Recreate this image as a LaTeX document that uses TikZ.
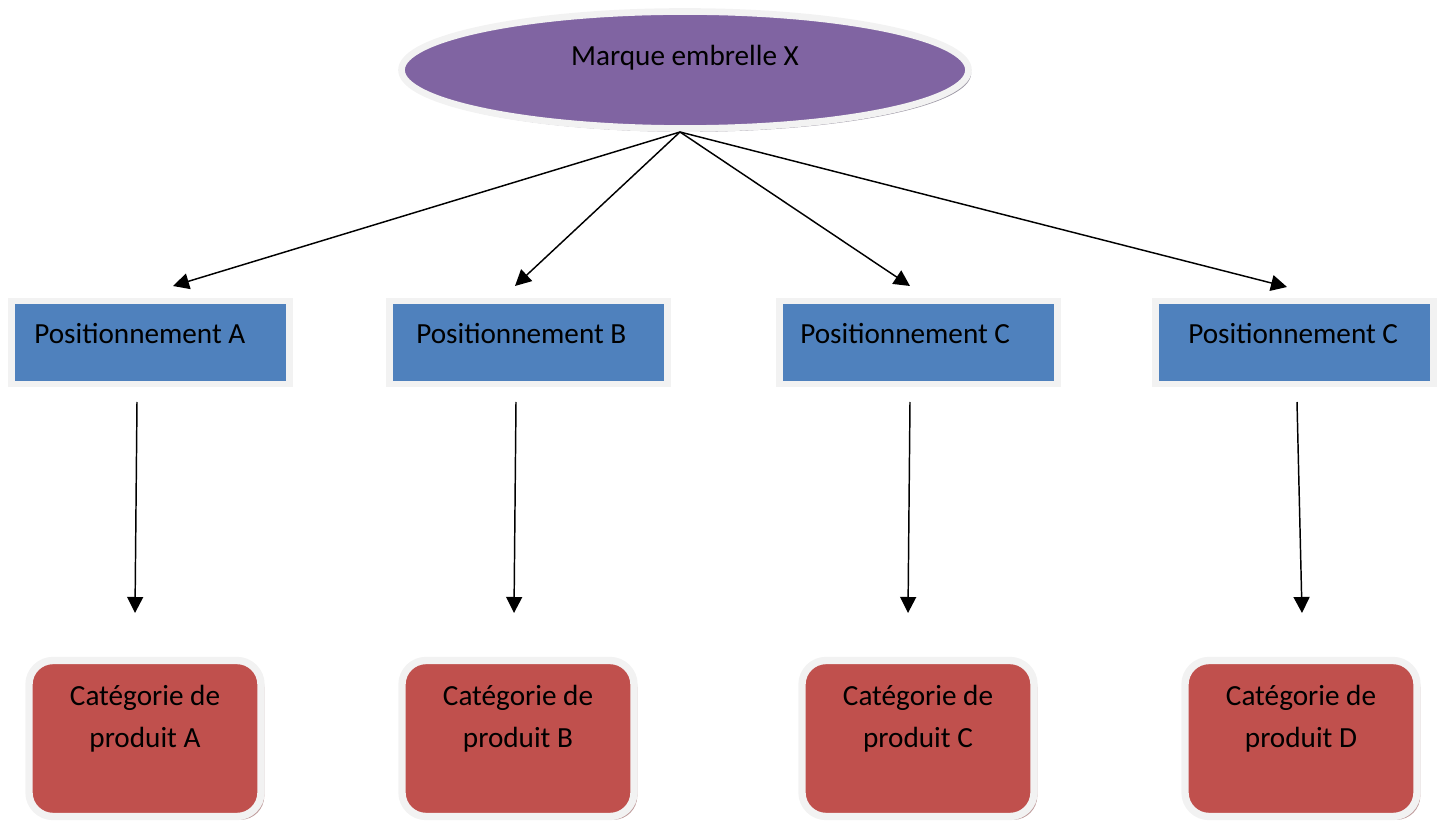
\documentclass[tikz,border=0pt]{standalone}
\usepackage{fontspec}
\setmainfont{Carlito}
\usetikzlibrary{arrows.meta,shapes.geometric,shadows}
\definecolor{ellpurple}{HTML}{8064A2}
\definecolor{posblue}{HTML}{4F81BD}
\definecolor{catred}{HTML}{C0504D}
\definecolor{rimgray}{HTML}{F2F2F2}
\definecolor{shblue}{HTML}{95A3B8}
\definecolor{shred}{HTML}{BF9C9C}
\definecolor{shpurple}{HTML}{9C97A4}
\begin{document}
\begin{tikzpicture}[x=0.75pt,y=-0.75pt,
  txt/.style={font=\fontsize{21.9}{31.5}\selectfont, text=black, inner sep=0pt},
  brand/.style={ellipse, fill=ellpurple, draw=rimgray, line width=5pt,
    minimum width=567*0.75pt, minimum height=117*0.75pt, inner sep=0pt,
    drop shadow={shadow xshift=2pt, shadow yshift=-2.5pt, fill=shpurple, opacity=1}},
  posbox/.style={rectangle, fill=posblue, draw=rimgray, line width=5pt,
    minimum width=278*0.75pt, minimum height=83*0.75pt, inner sep=0pt,
    drop shadow={shadow xshift=2.5pt, shadow yshift=-2.5pt, fill=shblue, opacity=1}},
  catbox/.style={rectangle, rounded corners=18pt, fill=catred, draw=rimgray, line width=5.5pt,
    minimum width=232*0.75pt, minimum height=156*0.75pt, inner sep=0pt,
    drop shadow={shadow xshift=2.5pt, shadow yshift=-2.5pt, fill=shred, opacity=1}},
  link/.style={draw=black, line width=1.1pt, -{Triangle[length=12pt,width=12pt]}}
]
\useasboundingbox (0,0) rectangle (1446,823);

% brand ellipse
\node[brand] (brand) at (685,70) {};
\node[txt] (brandtxt) at (685,58) {Marque embrelle X};
\coordinate (src) at (680,132);

% positioning boxes
\node[posbox] (pA) at (150.5,342.5) {};
\node[posbox] (pB) at (528.5,342.5) {};
\node[posbox] (pC) at (918.5,342.5) {};
\node[posbox] (pD) at (1294.5,342.5) {};
\node[txt,anchor=west] (tA) at (34,334) {Positionnement A};
\node[txt,anchor=west] (tB) at (416,334) {Positionnement B};
\node[txt,anchor=west] (tC) at (800,334) {Positionnement C};
\node[txt,anchor=west] (tD) at (1188,334) {Positionnement C};

% category boxes
\node[catbox] (cA) at (145,738.5) {};
\node[catbox] (cB) at (518,738.5) {};
\node[catbox] (cC) at (918,738.5) {};
\node[catbox] (cD) at (1301,738.5) {};
\node[txt,align=center] (ctA) at (145,719) {Catégorie de\\produit A};
\node[txt,align=center] (ctB) at (518,719) {Catégorie de\\produit B};
\node[txt,align=center] (ctC) at (918,719) {Catégorie de\\produit C};
\node[txt,align=center] (ctD) at (1301,719) {Catégorie de\\produit D};

% arrow end points
\coordinate (eA) at (173,286);
\coordinate (eB) at (515,286);
\coordinate (eC) at (910,286);
\coordinate (eD) at (1287,287);
\coordinate (sA) at (137,402);
\coordinate (sB) at (516,402);
\coordinate (sC) at (910,402);
\coordinate (sD) at (1297,402);
\coordinate (dA) at (135,613);
\coordinate (dB) at (514,613);
\coordinate (dC) at (908,613);
\coordinate (dD) at (1302,613);

\draw[link] (src) -- (eA);
\draw[link] (src) -- (eB);
\draw[link] (src) -- (eC);
\draw[link] (src) -- (eD);
\draw[link] (sA) -- (dA);
\draw[link] (sB) -- (dB);
\draw[link] (sC) -- (dC);
\draw[link] (sD) -- (dD);
\end{tikzpicture}
\end{document}
